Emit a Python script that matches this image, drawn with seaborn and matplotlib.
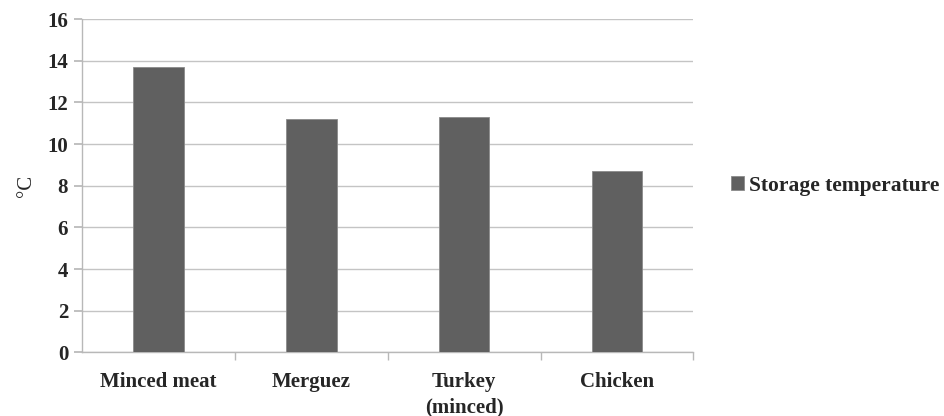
import matplotlib
matplotlib.use("Agg")
import matplotlib.pyplot as plt
from matplotlib.ticker import FixedLocator
import seaborn as sns
import pandas as pd

categories = ["Minced meat", "Merguez", "Turkey\n(minced)", "Chicken"]
storage_temperature = [13.7, 11.2, 11.3, 8.7]
series_name = "Storage temperature"
y_ticks = [0, 2, 4, 6, 8, 10, 12, 14, 16]

df = pd.DataFrame({"product": categories, "value": storage_temperature,
                   "series": [series_name] * len(categories)})

sns.set_theme(style="white")
plt.rcParams["font.family"] = ["Liberation Serif", "DejaVu Serif"]
plt.rcParams["font.weight"] = "bold"

fig = plt.figure(figsize=(9.45, 4.16), dpi=100)
ax = fig.add_axes([0.0868, 0.153, 0.647, 0.801])

sns.barplot(data=df, x="product", y="value", hue="series", ax=ax,
            palette=["#606060"], width=0.33, edgecolor="#8a8a8a",
            linewidth=0.6, zorder=3)

ax.set_ylim(0, 16)
ax.set_xlim(-0.5, len(categories) - 0.5)
ax.yaxis.set_major_locator(FixedLocator(y_ticks))
ax.grid(axis="y", color="#c4c4c4", linewidth=1.0, zorder=0)
ax.set_axisbelow(True)

for side in ["top", "right"]:
    ax.spines[side].set_visible(False)
for side in ["left", "bottom"]:
    ax.spines[side].set_color("#b8b8b8")
    ax.spines[side].set_linewidth(1.0)

ax.tick_params(axis="y", which="major", left=True, length=6, color="#b8b8b8",
               labelsize=15, pad=4)
ax.tick_params(axis="x", which="major", bottom=False, labelsize=15, pad=8)
ax.xaxis.set_minor_locator(FixedLocator([i + 0.5 for i in range(len(categories))]))
ax.tick_params(axis="x", which="minor", bottom=True, length=6, color="#b8b8b8")
for lab in ax.get_xticklabels() + ax.get_yticklabels():
    lab.set_fontweight("bold")
for lab in ax.get_xticklabels():
    lab.set_linespacing(1.35)

ax.set_xlabel("")
ax.set_ylabel("°C", fontsize=15, fontweight="normal", labelpad=8)

leg = ax.legend(loc="center left", bbox_to_anchor=(1.03, 0.5), frameon=False,
                handlelength=0.6, handleheight=0.6, handletextpad=0.25,
                prop={"size": 15.5, "weight": "bold"})

fig.savefig("out.png", dpi=100)
